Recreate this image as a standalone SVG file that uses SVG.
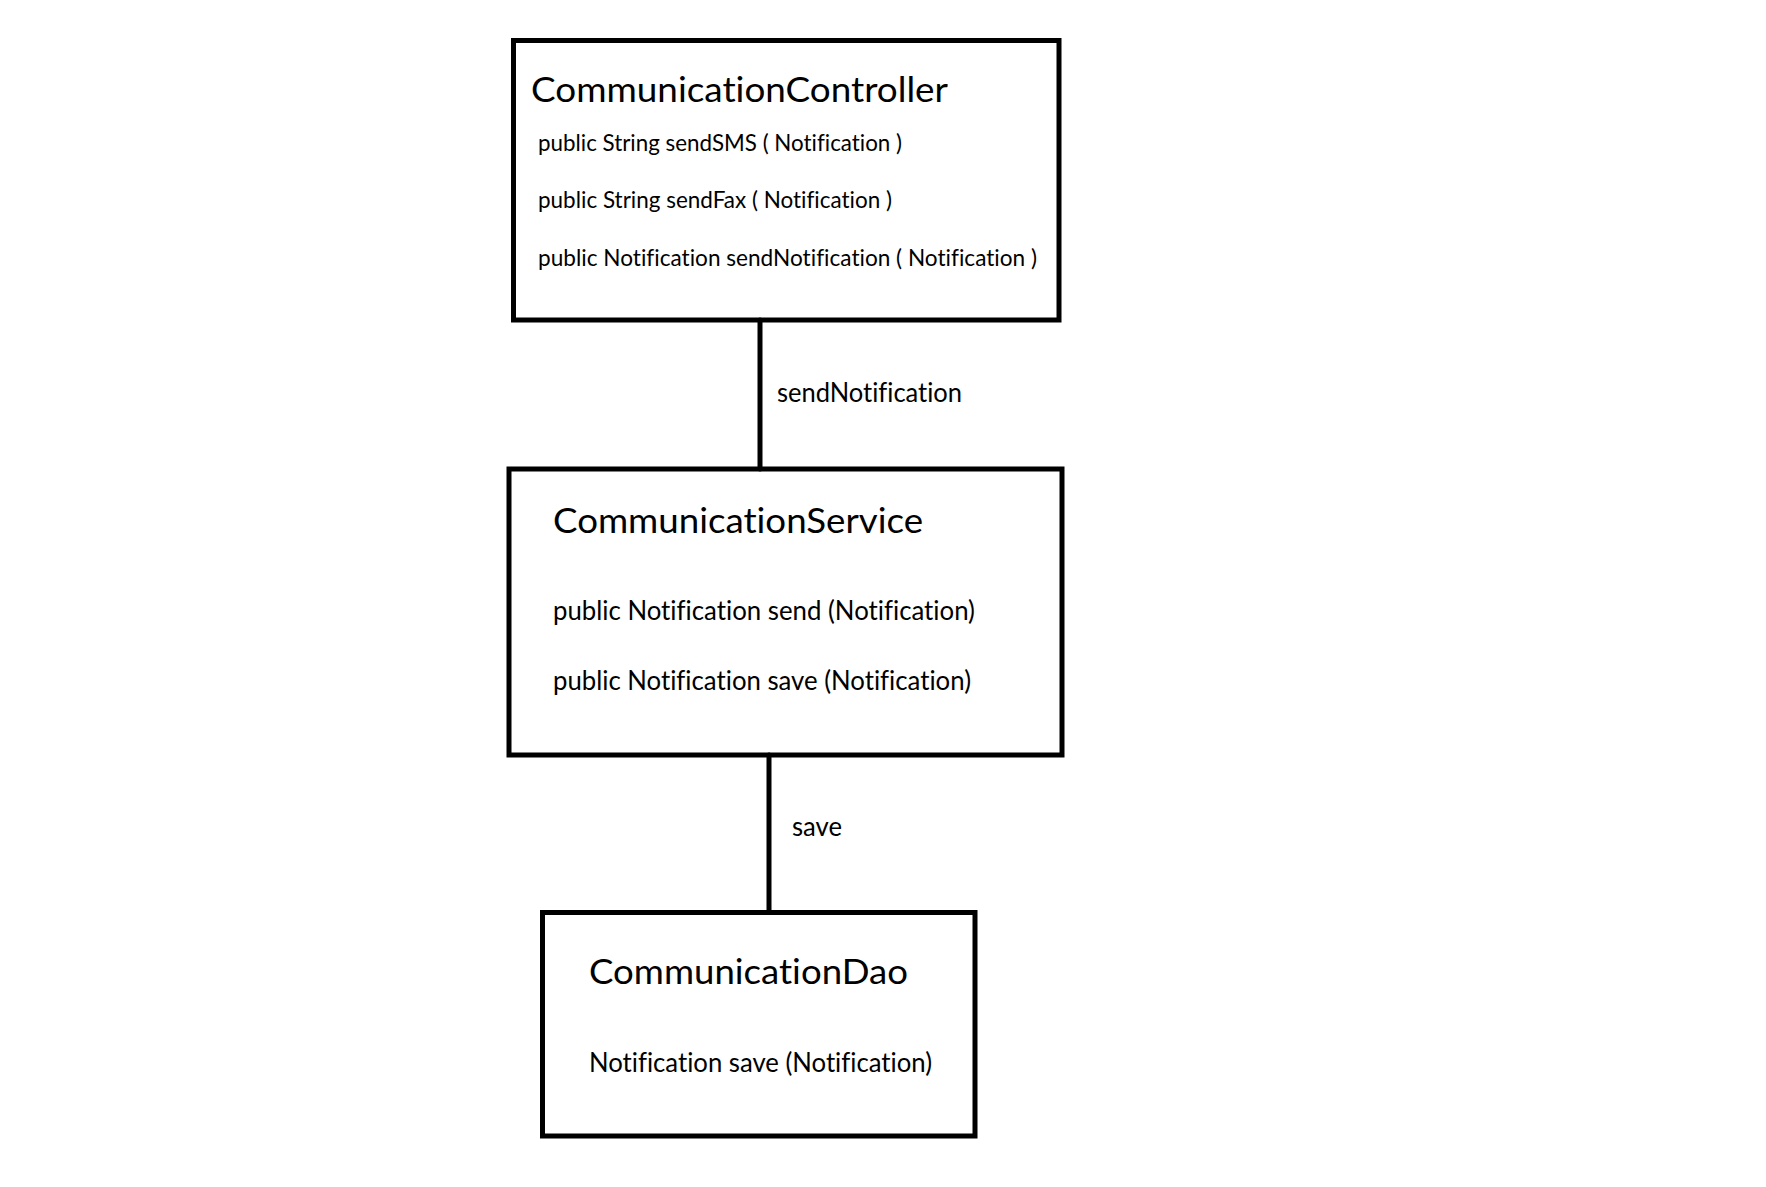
<svg xmlns="http://www.w3.org/2000/svg" width="1766" height="1187" viewBox="0 0 1766 1187">
<style>
.box{fill:none;stroke:#000;stroke-width:5}
.conn{stroke:#000;stroke-width:5;stroke-linecap:round}
text{font-family:Lato,"Open Sans","Liberation Sans",sans-serif;fill:#000;font-variant-ligatures:none;font-feature-settings:"liga" 0,"clig" 0}
.title{font-size:35px}
.m1{font-size:23px}
.m2{font-size:26px}
.lbl{font-size:26px}
</style>
<rect width="1766" height="1187" fill="#fff"/>
<g id="connectors">
<line class="conn" x1="760" y1="320" x2="760" y2="469"/>
<line class="conn" x1="769" y1="755" x2="769" y2="912.5"/>
<text class="lbl" x="777" y="402" textLength="185" lengthAdjust="spacingAndGlyphs">sendNotification</text>
<text class="lbl" x="792" y="836" textLength="50" lengthAdjust="spacingAndGlyphs">save</text>
</g>
<g id="CommunicationController">
<rect class="box" x="513.5" y="40.5" width="545.5" height="279.5"/>
<text class="title" x="531" y="101.5" textLength="417" lengthAdjust="spacingAndGlyphs">CommunicationController</text>
<text class="m1" x="538" y="151" textLength="364" lengthAdjust="spacingAndGlyphs">public String sendSMS ( Notification )</text>
<text class="m1" x="538" y="208" textLength="354" lengthAdjust="spacingAndGlyphs">public String sendFax ( Notification )</text>
<text class="m1" x="538" y="266" textLength="499" lengthAdjust="spacingAndGlyphs">public Notification sendNotification ( Notification )</text>
</g>
<g id="CommunicationService">
<rect class="box" x="509" y="469" width="553" height="286"/>
<text class="title" x="553" y="532.5" textLength="370" lengthAdjust="spacingAndGlyphs">CommunicationService</text>
<text class="m2" x="553" y="619.5" textLength="422" lengthAdjust="spacingAndGlyphs">public Notification send (Notification)</text>
<text class="m2" x="553" y="690" textLength="418" lengthAdjust="spacingAndGlyphs">public Notification save (Notification)</text>
</g>
<g id="CommunicationDao">
<rect class="box" x="542.5" y="912.5" width="432.5" height="223.5"/>
<text class="title" x="589" y="984" textLength="319" lengthAdjust="spacingAndGlyphs">CommunicationDao</text>
<text class="m2" x="589" y="1071.5" textLength="343" lengthAdjust="spacingAndGlyphs">Notification save (Notification)</text>
</g>
</svg>
